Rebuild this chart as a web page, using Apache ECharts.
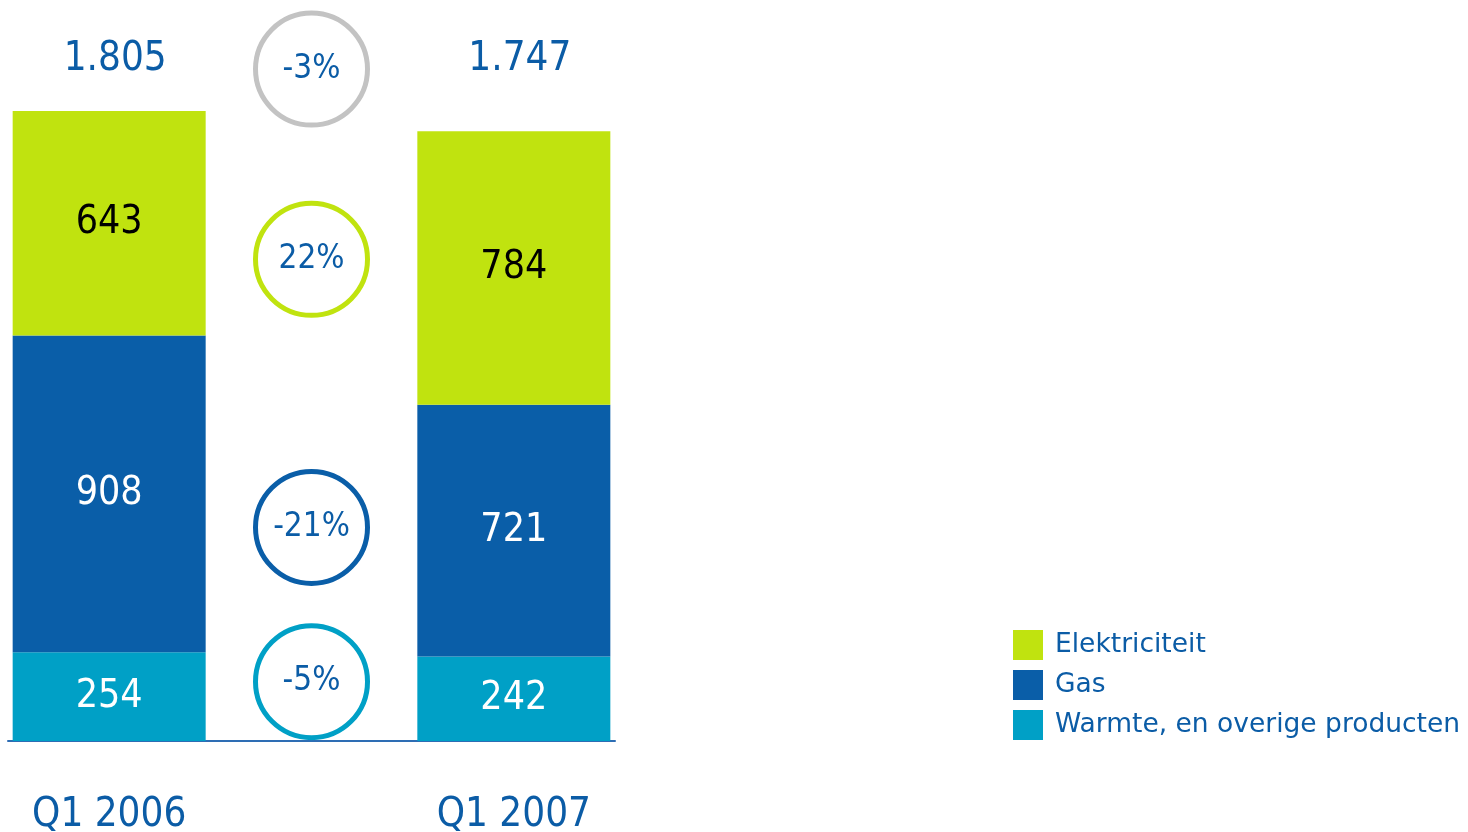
<!DOCTYPE html>
<html>
<head>
<meta charset="utf-8">
<script src="https://cdn.jsdelivr.net/npm/echarts@6/dist/echarts.min.js"></script>
<style>
  html, body { margin: 0; padding: 0; background: #fff; }
  #chart { width: 1468px; height: 832px; }
</style>
</head>
<body>
<div id="chart"></div>
<script>
const quarters = ['Q1 2006', 'Q1 2007'];
const warmte = [254, 242];
const gas = [908, 721];
const elektriciteit = [643, 784];
const legendNames = ['Elektriciteit', 'Gas', 'Warmte, en overige producten'];

// layout: where the change bubbles sit (value units on the y axis)
const bubbleLevels = { totaal: 1925, elektriciteit: 1380, gas: 612, warmte: 170 };

const BLUE_TEXT = '#0B5CA6';
const GREEN = '#C0E30F';
const DARK_BLUE = '#0A5EA8';
const TEAL = '#00A0C6';
const FONT = '"DejaVu Sans Condensed", "DejaVu Sans", sans-serif';

function nl(n) {
    return String(n).replace(/\B(?=(\d{3})+(?!\d))/g, '.');
}
function pct(a, b) {
    return Math.round((b / a - 1) * 100) + '%';
}

const totals = quarters.map((q, i) => warmte[i] + gas[i] + elektriciteit[i]);
const cats = [quarters[0], '', quarters[1]];

function seg(arr) {
    return [arr[0], '-', arr[1]];
}

function bubble(level, a, b, color) {
    return {
        value: [1, level],
        itemStyle: { color: '#fff', borderColor: color, borderWidth: 5, opacity: 1 },
        label: { formatter: pct(a, b) }
    };
}

let myChart = echarts.init(document.getElementById('chart'));
let option = {
    animation: false,
    textStyle: { fontFamily: FONT },
    grid: { left: 8, right: 853, top: 8, bottom: 91, containLabel: false, outerBoundsMode: 'none' },
    legend: {
        data: legendNames,
        orient: 'vertical',
        left: 1008,
        top: 625,
        itemWidth: 30,
        itemHeight: 30,
        itemGap: 10,
        icon: 'rect',
        textStyle: { fontFamily: '"DejaVu Sans", sans-serif', fontSize: 26.5, color: BLUE_TEXT, padding: [0, 0, 0, 7] }
    },
    xAxis: [
        {
            type: 'category',
            data: cats,
            axisLine: { lineStyle: { color: '#2E6DB4', width: 2 } },
            axisTick: { show: false },
            axisLabel: { fontSize: 40, color: BLUE_TEXT, margin: 55, interval: 0 }
        },
        {
            type: 'category',
            position: 'top',
            data: [nl(totals[0]), '', nl(totals[1])],
            axisLine: { show: false },
            axisTick: { show: false },
            axisLabel: { inside: true, fontSize: 40, color: BLUE_TEXT, margin: 52, verticalAlign: 'middle', interval: 0, padding: [0, 0, 0, 12] }
        }
    ],
    yAxis: {
        type: 'value',
        min: 0,
        max: 2100,
        show: false
    },
    series: [
        {
            name: legendNames[2],
            type: 'bar',
            stack: 'omzet',
            barWidth: 193,
            data: seg(warmte),
            itemStyle: { color: TEAL },
            label: { show: true, position: 'inside', fontSize: 39, color: '#fff', padding: [8, 0, 0, 0] }
        },
        {
            name: legendNames[1],
            type: 'bar',
            stack: 'omzet',
            data: seg(gas),
            itemStyle: { color: DARK_BLUE },
            label: { show: true, position: 'inside', fontSize: 39, color: '#fff', padding: [8, 0, 0, 0] }
        },
        {
            name: legendNames[0],
            type: 'bar',
            stack: 'omzet',
            data: seg(elektriciteit),
            itemStyle: { color: GREEN },
            label: { show: true, position: 'inside', fontSize: 39, color: '#000', padding: [8, 0, 0, 0] }
        },
        {
            name: 'verandering',
            type: 'scatter',
            symbol: 'circle',
            symbolSize: 112,
            z: 5,
            itemStyle: { opacity: 1 },
            label: { show: true, position: 'inside', fontSize: 33, color: BLUE_TEXT },
            data: [
                bubble(bubbleLevels.totaal, totals[0], totals[1], '#C3C3C3'),
                bubble(bubbleLevels.elektriciteit, elektriciteit[0], elektriciteit[1], GREEN),
                bubble(bubbleLevels.gas, gas[0], gas[1], DARK_BLUE),
                bubble(bubbleLevels.warmte, warmte[0], warmte[1], TEAL)
            ]
        }
    ]
};

option && myChart.setOption(option);
</script>
</body>
</html>
